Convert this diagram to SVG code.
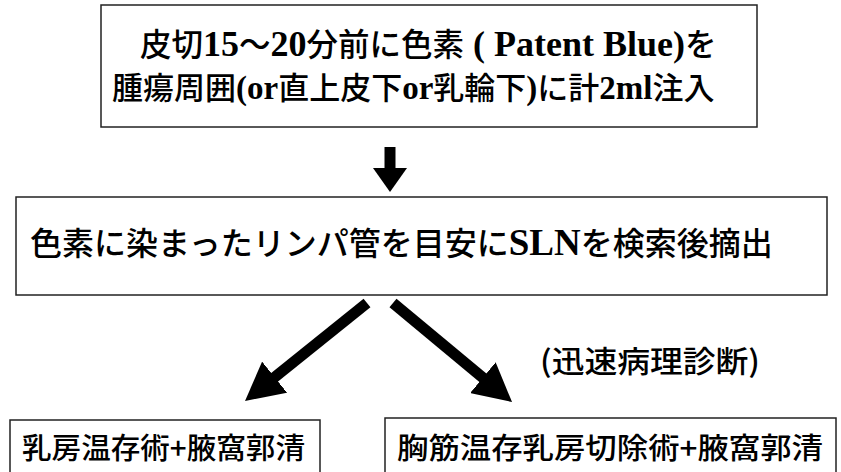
<svg xmlns="http://www.w3.org/2000/svg" width="841" height="472" viewBox="0 0 841 472">
<style>
.box{fill:#fff;stroke:#222;stroke-width:1.5}
.t{font-family:"Noto Sans CJK JP",sans-serif;font-weight:500;fill:#000}
.b{font-family:"Liberation Serif",serif;font-weight:700}
.conn{stroke:#000;fill:none}
</style>
<defs>
<marker id="hv" markerUnits="userSpaceOnUse" viewBox="0 0 24 34" markerWidth="24" markerHeight="34" refX="2" refY="17" orient="auto"><path d="M0,0 L24,17 L0,34 z" fill="#000"/></marker>
<marker id="hd" markerUnits="userSpaceOnUse" viewBox="0 0 38 40" markerWidth="38" markerHeight="40" refX="4" refY="20" orient="auto"><path d="M0,0 L38,20 L0,40 z" fill="#000"/></marker>
</defs>
<rect width="841" height="472" fill="#fff"/>
<g id="n1">
<rect class="box" x="101" y="5" width="656" height="122"/>
<text class="t" x="140" y="56" font-size="31.5">皮切<tspan class="b" font-size="36">15</tspan>～<tspan class="b" font-size="36">20</tspan>分前に色素<tspan class="b" font-size="36"> ( Patent Blue)</tspan>を</text>
<text class="t" x="112" y="99" font-size="31">腫瘍周囲<tspan class="b" font-size="33">(or</tspan>直上皮下<tspan class="b" font-size="33">or</tspan>乳輪下<tspan class="b" font-size="33">)</tspan>に計<tspan class="b" font-size="33">2ml</tspan>注入</text>
</g>
<g id="n2">
<rect class="box" x="16" y="197" width="811" height="98"/>
<text class="t" x="30" y="255" font-size="32">色素に染まったリンパ管を目安に<tspan class="b" font-size="37">SLN</tspan>を検索後摘出</text>
</g>
<g id="lbl">
<text class="t" x="540" y="372" font-size="30" textLength="220" lengthAdjust="spacingAndGlyphs">(迅速病理診断)</text>
</g>
<g id="n3">
<rect class="box" x="10" y="420" width="310" height="70"/>
<text class="t" x="22" y="459" font-size="29" textLength="283" lengthAdjust="spacingAndGlyphs">乳房温存術+腋窩郭清</text>
</g>
<g id="n4">
<rect class="box" x="385" y="418" width="451" height="70"/>
<text class="t" x="397" y="459" font-size="29" textLength="426" lengthAdjust="spacingAndGlyphs">胸筋温存乳房切除術+腋窩郭清</text>
</g>
<g id="connectors">
<line class="conn" x1="390" y1="147" x2="390" y2="170" stroke-width="11" marker-end="url(#hv)"/>
<line class="conn" x1="367" y1="303" x2="271.5" y2="379.7" stroke-width="11" marker-end="url(#hd)"/>
<line class="conn" x1="393" y1="303" x2="485.9" y2="380.3" stroke-width="11" marker-end="url(#hd)"/>
</g>
</svg>
